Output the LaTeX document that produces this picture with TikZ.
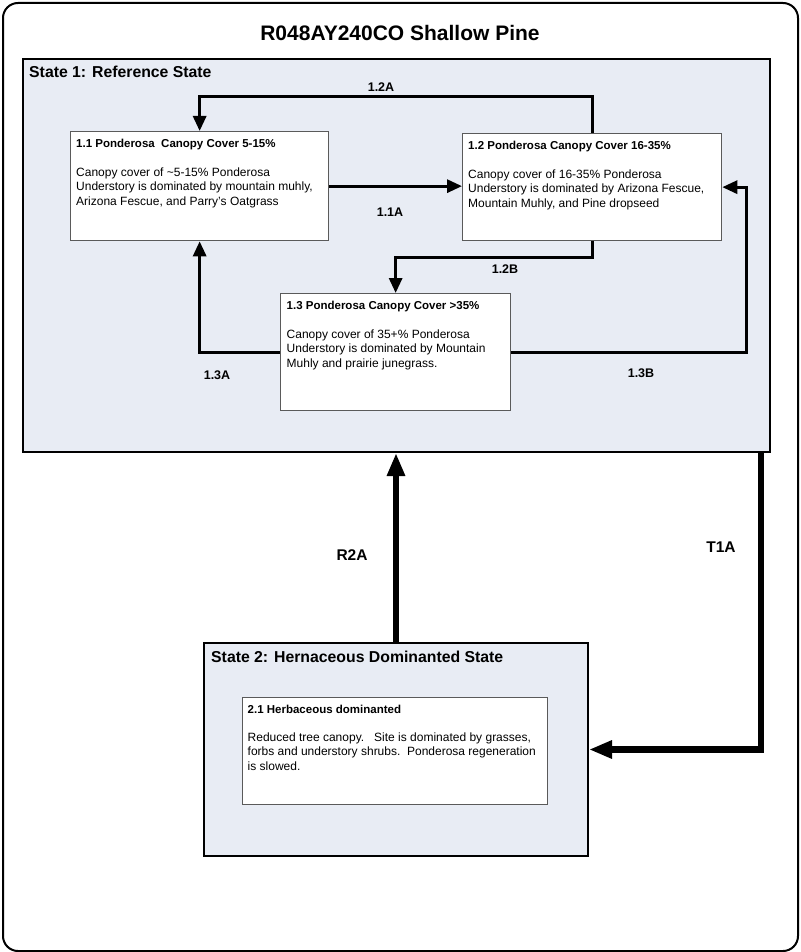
\documentclass[tikz,border=0pt]{standalone}
\usepackage{fontspec}
\setmainfont{Liberation Sans}
\usetikzlibrary{arrows.meta}
\definecolor{statefill}{RGB}{232,236,244}
\definecolor{boxline}{RGB}{90,90,90}
\begin{document}
\begin{tikzpicture}[x=1pt,y=-1pt,
  frame/.style={draw=black, line width=2pt, rounded corners=15pt, anchor=north west, inner sep=0},
  statebox/.style={draw=black, line width=2pt, fill=statefill, anchor=north west, inner sep=0},
  phasebox/.style={draw=boxline, line width=1.3pt, fill=white, anchor=north west, inner sep=0},
  ptitle/.style={anchor=base west, inner sep=0, font=\fontsize{11.5}{13}\selectfont\bfseries},
  pbody/.style={anchor=north west, inner sep=0, align=left, font=\fontsize{12}{14.5}\selectfont},
  slabel/.style={anchor=base west, inner sep=0, font=\fontsize{15.8}{18}\selectfont\bfseries},
  conn/.style={line width=3pt, -{Triangle[length=15pt,width=13pt]}},
  bigconn/.style={line width=6.5pt, -{Triangle[length=23pt,width=17pt]}},
  lbl/.style={inner sep=0, font=\fontsize{12.5}{14}\selectfont\bfseries},
  biglbl/.style={inner sep=0, font=\fontsize{15.5}{17}\selectfont\bfseries},
]
\useasboundingbox (0,0) rectangle (800,952);

% outer frame and title
\node[frame, minimum width=795pt, minimum height=948pt] (outer) at (2,2) {};
\node[inner sep=0, font=\fontsize{21}{24}\selectfont\bfseries] (title) at (400,33) {R048AY240CO Shallow Pine};

% states
\node[statebox, minimum width=747pt, minimum height=393pt] (s1) at (22,58) {};
\node[slabel] (s1lbl) at (29,77.6) {State 1: Reference State};
\node[statebox, minimum width=384pt, minimum height=213pt] (s2) at (203,642) {};
\node[slabel] (s2lbl) at (211,662.6) {State 2: Hernaceous Dominanted State};

% community phases
\node[phasebox, minimum width=258pt, minimum height=109pt] (b11) at (70,131) {};
\node[ptitle] (t11) at ([xshift=6pt,yshift=-17pt]b11.north west) {1.1 Ponderosa\ \ Canopy Cover 5-15\%};
\node[pbody] (d11) at ([xshift=6pt,yshift=-36.5pt]b11.north west) {Canopy cover of \textasciitilde5-15\% Ponderosa\\Understory is dominated by mountain muhly,\\Arizona Fescue, and Parry’s Oatgrass};

\node[phasebox, minimum width=259pt, minimum height=107pt] (b12) at (462,133) {};
\node[ptitle] (t12) at ([xshift=6pt,yshift=-17pt]b12.north west) {1.2 Ponderosa Canopy Cover 16-35\%};
\node[pbody] (d12) at ([xshift=6pt,yshift=-36.5pt]b12.north west) {Canopy cover of 16-35\% Ponderosa\\Understory is dominated by Arizona Fescue,\\Mountain Muhly, and Pine dropseed};

\node[phasebox, minimum width=230pt, minimum height=117pt] (b13) at (280,293) {};
\node[ptitle] (t13) at ([xshift=6.5pt,yshift=-16pt]b13.north west) {1.3 Ponderosa Canopy Cover >35\%};
\node[pbody] (d13) at ([xshift=6.5pt,yshift=-36.5pt]b13.north west) {Canopy cover of 35+\% Ponderosa\\Understory is dominated by Mountain\\Muhly and prairie junegrass.};

\node[phasebox, minimum width=305pt, minimum height=107pt] (b21) at (242,697) {};
\node[ptitle] (t21) at ([xshift=5.5pt,yshift=-16pt]b21.north west) {2.1 Herbaceous dominanted};
\node[pbody] (d21) at ([xshift=5.5pt,yshift=-35.5pt]b21.north west) {Reduced tree canopy.\ \ \ Site is dominated by grasses,\\forbs and understory shrubs.\ \ Ponderosa regeneration\\is slowed.};

% pathways within state 1
\draw[conn] (b12.north) -- ++(0,-36) -| (b11.north);
\draw[conn] (b11.east) -- (b11.east -| b12.west);
\draw[conn] (b12.south) -- ++(0,16) -| (b13.north);
\draw[conn] (b13.west) -| (b11.south);
\draw[conn] (b13.east) -| ([xshift=24pt]b12.east) -- (b12.east);

% transitions
\draw[bigconn] (s2.north) -- (s2.north |- s1.south);
\draw[bigconn] ([xshift=-10pt]s1.south east) |- (s2.east);

% labels
\node[lbl] (l12a) at (381,87) {1.2A};
\node[lbl] (l11a) at (390,212) {1.1A};
\node[lbl] (l12b) at (505,269) {1.2B};
\node[lbl] (l13a) at (217,375) {1.3A};
\node[lbl] (l13b) at (641,373) {1.3B};
\node[biglbl] (lr2a) at (352,555) {R2A};
\node[biglbl] (lt1a) at (721,547) {T1A};
\end{tikzpicture}
\end{document}
